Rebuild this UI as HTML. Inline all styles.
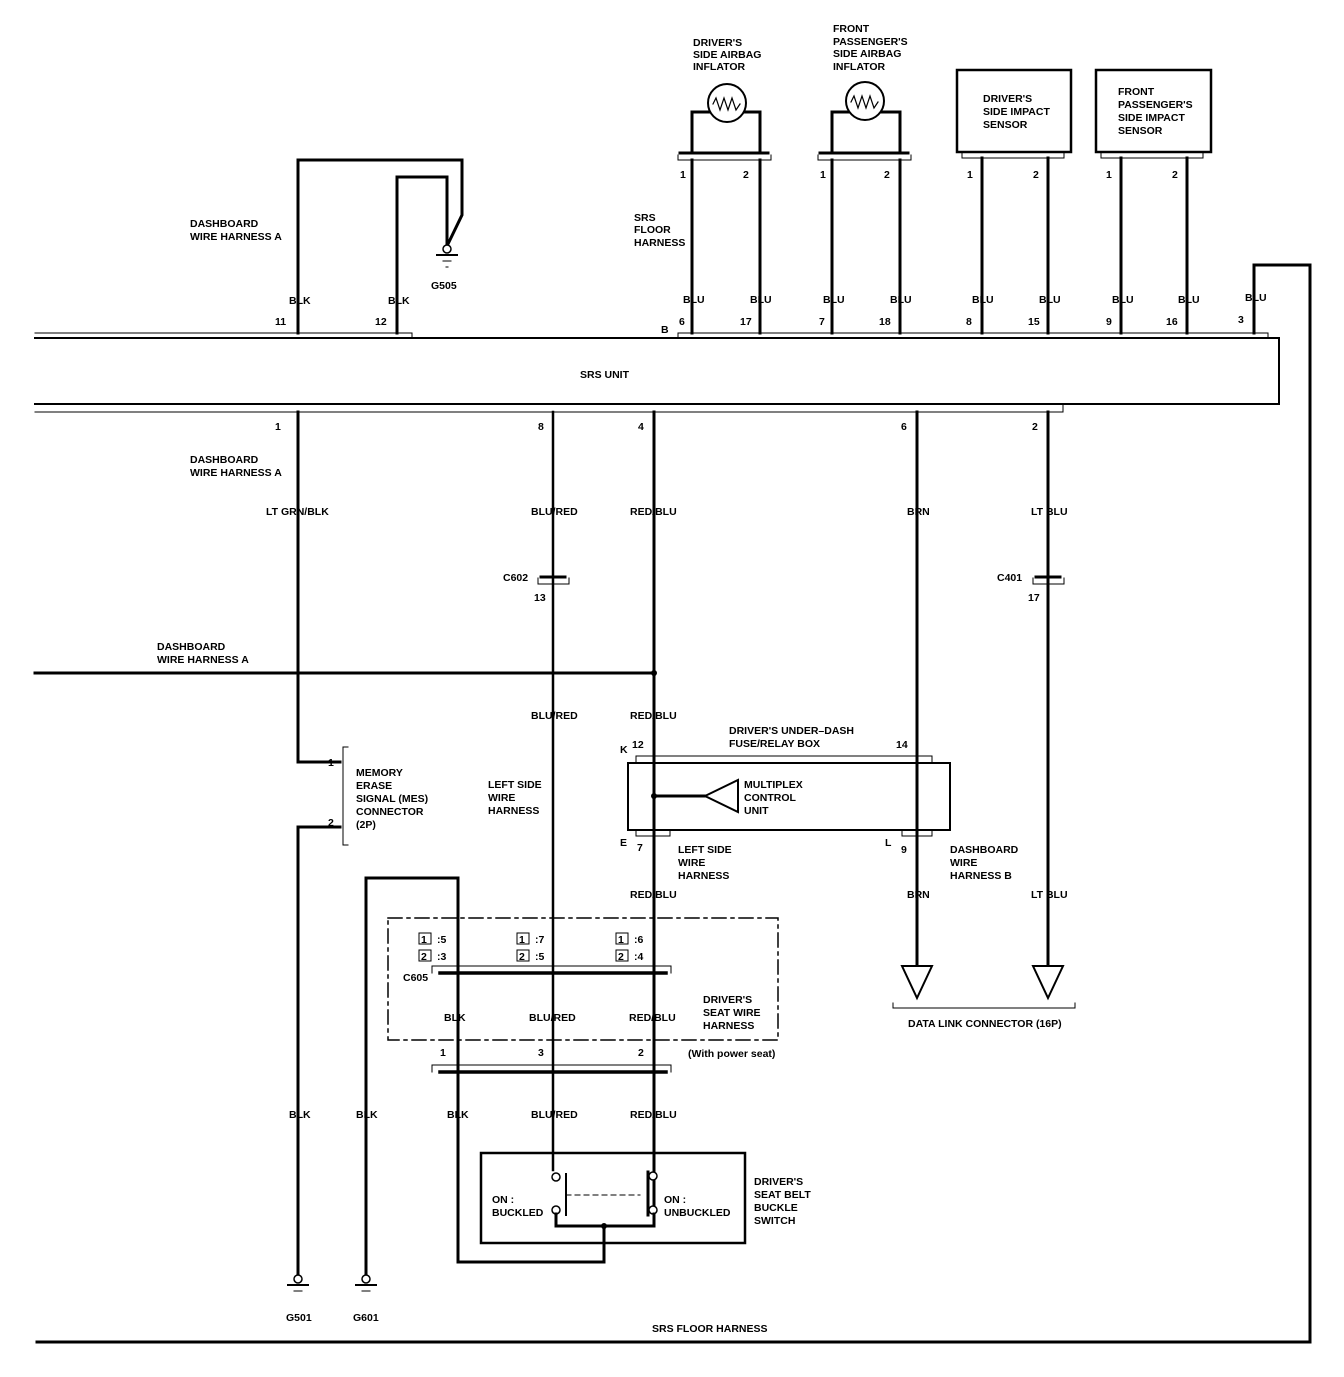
<!DOCTYPE html>
<html><head><meta charset="utf-8"><style>
html,body{margin:0;padding:0;background:#fff}
svg text{font-family:"Liberation Sans",sans-serif;font-weight:bold;font-size:10.5px;fill:#000}
</style></head><body>
<svg width="1344" height="1372" viewBox="0 0 1344 1372" xmlns="http://www.w3.org/2000/svg">
<rect width="1344" height="1372" fill="#fff"/>
<g fill="none" stroke="#000" stroke-linecap="square">
<!-- SRS unit -->
<polyline points="35,338 1279,338 1279,404 35,404" stroke-width="2"/>
<polyline points="35,333 412,333 412,338" stroke-width="1"/>
<polyline points="678,338 678,333 1268,333 1268,338" stroke-width="1"/>
<polyline points="35,412 1063,412 1063,405" stroke-width="1"/>
<!-- top left ground loops -->
<polyline points="298,333 298,160 462,160 462,215 447,246" stroke-width="3"/>
<polyline points="397,333 397,177 447,177 447,246" stroke-width="3"/>
<!-- airbag inflators -->
<polyline points="692,153 692,112 760,112 760,153" stroke-width="3"/>
<circle cx="727" cy="103" r="19" stroke-width="2" fill="#fff"/>
<polyline points="713,104 716,98 720,110 724,98 728,110 732,98 736,110 740,104" stroke-width="1.2"/>
<line x1="680" y1="153" x2="768" y2="153" stroke-width="3"/>
<polyline points="678,155 678,160 771,160 771,155" stroke-width="1"/>
<polyline points="832,153 832,112 900,112 900,153" stroke-width="3"/>
<circle cx="865" cy="101" r="19" stroke-width="2" fill="#fff"/>
<polyline points="851,102 854,96 858,108 862,96 866,108 870,96 874,108 878,102" stroke-width="1.2"/>
<line x1="820" y1="153" x2="908" y2="153" stroke-width="3"/>
<polyline points="818,155 818,160 911,160 911,155" stroke-width="1"/>
<rect x="957" y="70" width="114" height="82" stroke-width="2.5"/>
<polyline points="962,152 962,158 1064,158 1064,152" stroke-width="1"/>
<rect x="1096" y="70" width="115" height="82" stroke-width="2.5"/>
<polyline points="1101,152 1101,158 1203,158 1203,152" stroke-width="1"/>
<g stroke-width="3">
<line x1="692" y1="160" x2="692" y2="333"/><line x1="760" y1="160" x2="760" y2="333"/>
<line x1="832" y1="160" x2="832" y2="333"/><line x1="900" y1="160" x2="900" y2="333"/>
<line x1="982" y1="158" x2="982" y2="333"/><line x1="1048" y1="158" x2="1048" y2="333"/>
<line x1="1121" y1="158" x2="1121" y2="333"/><line x1="1187" y1="158" x2="1187" y2="333"/>
<polyline points="1254,333 1254,265 1310,265 1310,1342 37,1342"/>
</g>
<!-- bottom wires -->
<polyline points="298,412 298,762 340,762" stroke-width="3"/>
<polyline points="340,827 298,827 298,1276" stroke-width="3"/>
<polyline points="343,747 348,747 M343,747" stroke-width="1"/>
<polyline points="348,747 343,747 343,845 348,845" stroke-width="1"/>
<line x1="553" y1="412" x2="553" y2="1170" stroke-width="2.5"/>
<line x1="654" y1="412" x2="654" y2="1210" stroke-width="3"/>
<line x1="917" y1="412" x2="917" y2="966" stroke-width="3"/>
<line x1="1048" y1="412" x2="1048" y2="966" stroke-width="3"/>
<line x1="35" y1="673" x2="654" y2="673" stroke-width="3"/>
<!-- C602 / C401 -->
<line x1="541" y1="577" x2="565" y2="577" stroke-width="3"/>
<polyline points="538,578 538,584 569,584 569,578" stroke-width="1"/>
<line x1="1036" y1="577" x2="1060" y2="577" stroke-width="3"/>
<polyline points="1033,578 1033,584 1064,584 1064,578" stroke-width="1"/>
<!-- fuse box -->
<polyline points="636,763 636,756 932,756 932,763" stroke-width="1"/>
<rect x="628" y="763" width="322" height="67" stroke-width="2"/>
<polyline points="636,830 636,836 670,836 670,830" stroke-width="1"/>
<polyline points="902,830 902,836 932,836 932,830" stroke-width="1"/>
<line x1="654" y1="796" x2="705" y2="796" stroke-width="3"/>
<polygon points="705,796 738,780 738,812" stroke-width="2" fill="#fff"/>
<!-- data link -->
<polygon points="902,966 932,966 917,998" stroke-width="2" fill="#fff"/>
<polygon points="1033,966 1063,966 1048,998" stroke-width="2" fill="#fff"/>
<polyline points="893,1003 893,1008 1075,1008 1075,1003" stroke-width="1"/>
<!-- seat harness -->
<rect x="388" y="918" width="390" height="122" stroke-width="1.5" stroke-dasharray="14,5,3,5"/>
<polyline points="366,1276 366,878 458,878 458,1262 604,1262 604,1226" stroke-width="3"/>
<line x1="440" y1="973" x2="666" y2="973" stroke-width="3.5"/>
<polyline points="432,973 432,966 671,966 671,973" stroke-width="1"/>
<line x1="440" y1="1072" x2="666" y2="1072" stroke-width="3.5"/>
<polyline points="432,1072 432,1065 671,1065 671,1072" stroke-width="1"/>
<g stroke-width="1">
<rect x="419" y="933" width="12" height="11"/><rect x="419" y="950" width="12" height="11"/>
<rect x="517" y="933" width="12" height="11"/><rect x="517" y="950" width="12" height="11"/>
<rect x="616" y="933" width="12" height="11"/><rect x="616" y="950" width="12" height="11"/>
</g>
<!-- switch -->
<rect x="481" y="1153" width="264" height="90" stroke-width="2.5"/>
<circle cx="556" cy="1177" r="4" stroke-width="1.5" fill="#fff"/>
<circle cx="556" cy="1210" r="4" stroke-width="1.5" fill="#fff"/>
<circle cx="653" cy="1176" r="4" stroke-width="1.5" fill="#fff"/>
<circle cx="653" cy="1210" r="4" stroke-width="1.5" fill="#fff"/>
<line x1="566" y1="1174" x2="566" y2="1215" stroke-width="2"/>
<line x1="648" y1="1172" x2="648" y2="1215" stroke-width="3"/>
<line x1="566" y1="1195" x2="640" y2="1195" stroke-width="1" stroke-dasharray="5,4"/>
<polyline points="556,1214 556,1226 654,1226 654,1214" stroke-width="3"/>
<!-- grounds -->
<circle cx="447" cy="249" r="4" stroke-width="1.5" fill="#fff"/>
<line x1="437" y1="255" x2="457" y2="255" stroke-width="2"/>
<line x1="443" y1="261" x2="451" y2="261" stroke-width="1"/>
<line x1="446" y1="267" x2="448" y2="267" stroke-width="1"/>
<circle cx="298" cy="1279" r="4" stroke-width="1.5" fill="#fff"/>
<line x1="288" y1="1285" x2="308" y2="1285" stroke-width="2"/>
<line x1="294" y1="1291" x2="302" y2="1291" stroke-width="1"/>
<circle cx="366" cy="1279" r="4" stroke-width="1.5" fill="#fff"/>
<line x1="356" y1="1285" x2="376" y2="1285" stroke-width="2"/>
<line x1="362" y1="1291" x2="370" y2="1291" stroke-width="1"/>
</g>
<g fill="#000">
<circle cx="654" cy="673" r="3"/><circle cx="654" cy="796" r="3"/><circle cx="604" cy="1226" r="3"/>
</g>
<g>
<text x="190" y="227">DASHBOARD</text><text x="190" y="240">WIRE HARNESS A</text>
<text x="190" y="463">DASHBOARD</text><text x="190" y="476">WIRE HARNESS A</text>
<text x="157" y="650">DASHBOARD</text><text x="157" y="663">WIRE HARNESS A</text>
<text x="431" y="289">G505</text>
<text x="289" y="304">BLK</text><text x="388" y="304">BLK</text>
<text x="275" y="325">11</text><text x="375" y="325">12</text>
<text x="634" y="221">SRS</text><text x="634" y="233">FLOOR</text><text x="634" y="246">HARNESS</text>
<text x="693" y="46">DRIVER'S</text><text x="693" y="58">SIDE AIRBAG</text><text x="693" y="70">INFLATOR</text>
<text x="833" y="32">FRONT</text><text x="833" y="45">PASSENGER'S</text><text x="833" y="57">SIDE AIRBAG</text><text x="833" y="70">INFLATOR</text>
<text x="983" y="102">DRIVER'S</text><text x="983" y="115">SIDE IMPACT</text><text x="983" y="128">SENSOR</text>
<text x="1118" y="95">FRONT</text><text x="1118" y="108">PASSENGER'S</text><text x="1118" y="121">SIDE IMPACT</text><text x="1118" y="134">SENSOR</text>
<text x="680" y="178">1</text><text x="743" y="178">2</text><text x="820" y="178">1</text><text x="884" y="178">2</text>
<text x="967" y="178">1</text><text x="1033" y="178">2</text><text x="1106" y="178">1</text><text x="1172" y="178">2</text>
<text x="683" y="303">BLU</text><text x="750" y="303">BLU</text><text x="823" y="303">BLU</text><text x="890" y="303">BLU</text>
<text x="972" y="303">BLU</text><text x="1039" y="303">BLU</text><text x="1112" y="303">BLU</text><text x="1178" y="303">BLU</text><text x="1245" y="301">BLU</text>
<text x="661" y="333">B</text>
<text x="679" y="325">6</text><text x="740" y="325">17</text><text x="819" y="325">7</text><text x="879" y="325">18</text>
<text x="966" y="325">8</text><text x="1028" y="325">15</text><text x="1106" y="325">9</text><text x="1166" y="325">16</text><text x="1238" y="323">3</text>
<text x="580" y="378">SRS UNIT</text>
<text x="275" y="430">1</text><text x="538" y="430">8</text><text x="638" y="430">4</text><text x="901" y="430">6</text><text x="1032" y="430">2</text>
<text x="266" y="515">LT GRN/BLK</text><text x="531" y="515">BLU/RED</text><text x="630" y="515">RED/BLU</text><text x="907" y="515">BRN</text><text x="1031" y="515">LT BLU</text>
<text x="503" y="581">C602</text><text x="534" y="601">13</text>
<text x="997" y="581">C401</text><text x="1028" y="601">17</text>
<text x="531" y="719">BLU/RED</text><text x="630" y="719">RED/BLU</text>
<text x="729" y="734">DRIVER'S UNDER–DASH</text><text x="729" y="747">FUSE/RELAY BOX</text>
<text x="620" y="753">K</text><text x="632" y="748">12</text><text x="896" y="748">14</text>
<text x="744" y="788">MULTIPLEX</text><text x="744" y="801">CONTROL</text><text x="744" y="814">UNIT</text>
<text x="620" y="846">E</text><text x="637" y="851">7</text><text x="885" y="846">L</text><text x="901" y="853">9</text>
<text x="678" y="853">LEFT SIDE</text><text x="678" y="866">WIRE</text><text x="678" y="879">HARNESS</text>
<text x="950" y="853">DASHBOARD</text><text x="950" y="866">WIRE</text><text x="950" y="879">HARNESS B</text>
<text x="630" y="898">RED/BLU</text><text x="907" y="898">BRN</text><text x="1031" y="898">LT BLU</text>
<text x="908" y="1027">DATA LINK CONNECTOR (16P)</text>
<text x="328" y="766">1</text><text x="328" y="826">2</text>
<text x="356" y="776">MEMORY</text><text x="356" y="789">ERASE</text><text x="356" y="802">SIGNAL (MES)</text><text x="356" y="815">CONNECTOR</text><text x="356" y="828">(2P)</text>
<text x="488" y="788">LEFT SIDE</text><text x="488" y="801">WIRE</text><text x="488" y="814">HARNESS</text>
<text x="421" y="943" font-size="9">1</text><text x="437" y="943">:5</text><text x="421" y="960" font-size="9">2</text><text x="437" y="960">:3</text>
<text x="519" y="943" font-size="9">1</text><text x="535" y="943">:7</text><text x="519" y="960" font-size="9">2</text><text x="535" y="960">:5</text>
<text x="618" y="943" font-size="9">1</text><text x="634" y="943">:6</text><text x="618" y="960" font-size="9">2</text><text x="634" y="960">:4</text>
<text x="403" y="981">C605</text>
<text x="444" y="1021">BLK</text><text x="529" y="1021">BLU/RED</text><text x="629" y="1021">RED/BLU</text>
<text x="703" y="1003">DRIVER'S</text><text x="703" y="1016">SEAT WIRE</text><text x="703" y="1029">HARNESS</text>
<text x="440" y="1056">1</text><text x="538" y="1056">3</text><text x="638" y="1056">2</text>
<text x="688" y="1057" font-weight="normal">(With power seat)</text>
<text x="289" y="1118">BLK</text><text x="356" y="1118">BLK</text><text x="447" y="1118">BLK</text><text x="531" y="1118">BLU/RED</text><text x="630" y="1118">RED/BLU</text>
<text x="492" y="1203">ON :</text><text x="492" y="1216">BUCKLED</text>
<text x="664" y="1203">ON :</text><text x="664" y="1216">UNBUCKLED</text>
<text x="754" y="1185">DRIVER'S</text><text x="754" y="1198">SEAT BELT</text><text x="754" y="1211">BUCKLE</text><text x="754" y="1224">SWITCH</text>
<text x="286" y="1321">G501</text><text x="353" y="1321">G601</text>
<text x="652" y="1332">SRS FLOOR HARNESS</text>
</g>
</svg>
</body></html>
